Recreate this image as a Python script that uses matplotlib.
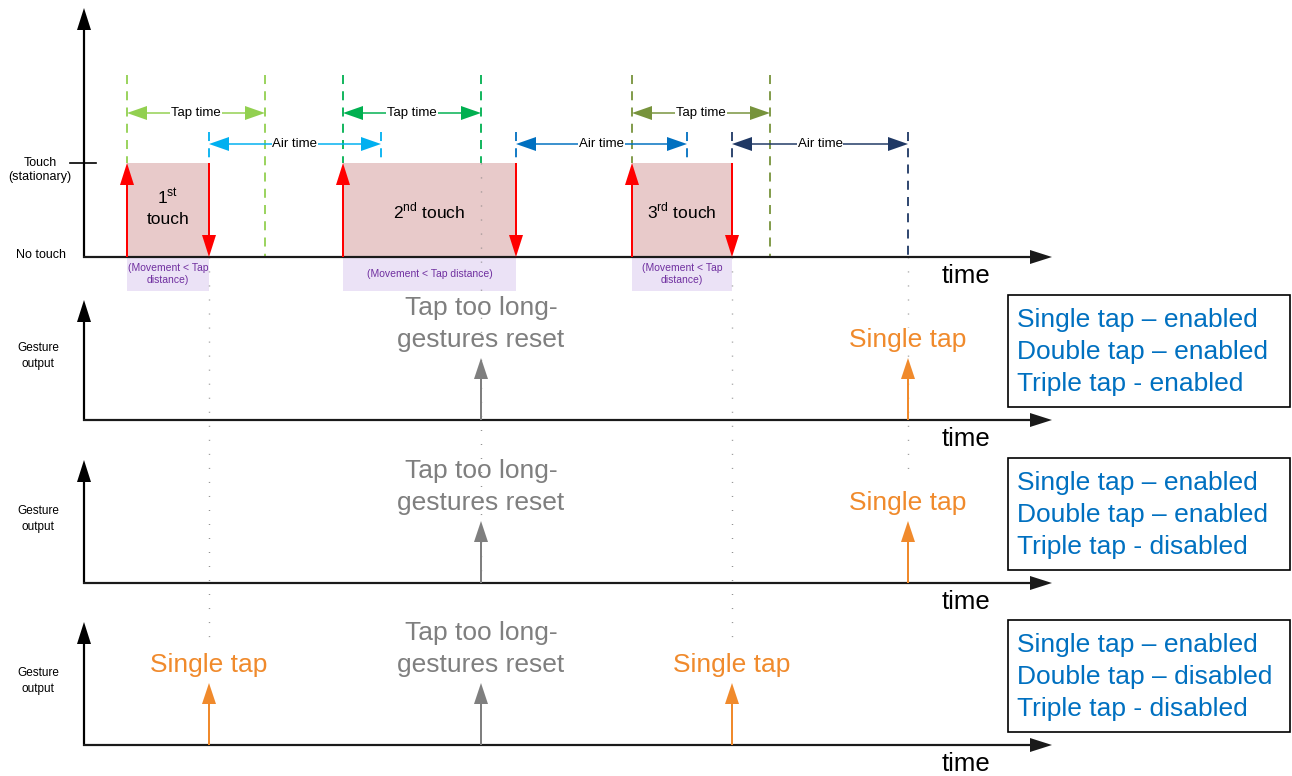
import matplotlib
matplotlib.use("Agg")
import matplotlib.pyplot as plt
from matplotlib.patches import Rectangle

plt.rcParams['font.family'] = ['Liberation Sans', 'DejaVu Sans']
plt.rcParams['mathtext.fontset'] = 'custom'
plt.rcParams['mathtext.rm'] = 'Liberation Sans'

# time axis is in pixel-like units across the figure
touch_start = [127, 343, 632]
touch_end = [209, 516, 732]
touch_labels = ['1$^{\\rm st}$\ntouch', '2$^{\\rm nd}$ touch', '3$^{\\rm rd}$ touch']
movement_labels = ['(Movement < Tap\ndistance)', '(Movement < Tap distance)', '(Movement < Tap\ndistance)']
tap_end = [265, 481, 770]          # tap-time window starts at touch_start
tap_colors = ['#92D050', '#00B050', '#77933C']
air_end = [381, 687, 908]          # air-time window starts at touch_end
air_colors = ['#00B0F0', '#0070C0', '#1F3864']

# gesture output panels
panel_outputs = [
    [(481, 'reset'), (908, 'single')],
    [(481, 'reset'), (908, 'single')],
    [(209, 'single'), (481, 'reset'), (732, 'single')],
]
panel_settings = [
    ['Single tap \u2013 enabled', 'Double tap \u2013 enabled', 'Triple tap - enabled'],
    ['Single tap \u2013 enabled', 'Double tap \u2013 enabled', 'Triple tap - disabled'],
    ['Single tap \u2013 enabled', 'Double tap \u2013 disabled', 'Triple tap - disabled'],
]

# dotted guide lines (x, top, bottom)
guide_x = [209, 481, 732, 908]
guide_top = [257, 163, 257, 257]
guide_bottom = [642, 583, 642, 470]

W, H = 1292, 776
fig = plt.figure(figsize=(W / 100, H / 100), dpi=100)
ax = fig.add_axes([0, 0, 1, 1])
ax.set_xlim(0, W)
ax.set_ylim(H, 0)
ax.axis('off')

x0 = 84
x_end = 1052
base1 = 257
touch_y = 163
tap_y = 113
air_y = 144
dash_top = 75
tick_top = 132
bases = [257, 420, 583, 745]
tops = [8, 300, 460, 622]

RED = '#FF0000'
ORANGE = '#F08A2C'
GRAY = '#7F7F7F'
BLUE = '#0070C0'
PURPLE = '#7030A0'
DASH = (0, (5, 4))


def arrow(x, y, dx, dy, color, lw=2, hw=14, hl=22, z=4):
    ax.arrow(x, y, dx, dy, width=lw, head_width=hw, head_length=hl,
             length_includes_head=True, color=color, lw=0, zorder=z)


def span_arrow(xa, xb, y, color, label):
    xm = (xa + xb) / 2
    arrow(xm, y, xa - xm, 0, color, lw=1.5, hw=14, hl=20)
    arrow(xm, y, xb - xm, 0, color, lw=1.5, hw=14, hl=20)
    ax.text(xm, y, label, ha='center', va='center', fontsize=9.5, zorder=6,
            bbox=dict(facecolor='white', edgecolor='none', pad=0.5))


def inside_touch(x):
    return any(s < x < e for s, e in zip(touch_start, touch_end))


# axes of each panel
for b, t in zip(bases, tops):
    arrow(x0, b + 1, 0, t - b - 1, 'black', lw=2.2)
    arrow(x0 - 1, b, x_end - x0 + 1, 0, '#1A1A1A', lw=2.2)
    ax.text(966, b + 19, 'time', ha='center', va='center', fontsize=18.5)

# guide lines
for gx, gt, gb in zip(guide_x, guide_top, guide_bottom):
    ax.plot([gx, gx], [gt, gb], color=GRAY, lw=1, ls=(0, (0.6, 9.5)), zorder=1)

# top panel: touches
for s, e, lab, mv in zip(touch_start, touch_end, touch_labels, movement_labels):
    ax.add_patch(Rectangle((s, touch_y), e - s, base1 - touch_y, facecolor='#E8CACA',
                           edgecolor='none', zorder=0.5))
    ax.add_patch(Rectangle((s, base1 + 1), e - s, 33, facecolor='#EBE2F6',
                           edgecolor='none', zorder=0.5))
    ax.text((s + e) / 2, base1 + 17, mv, ha='center', va='center', fontsize=7.5,
            color=PURPLE, linespacing=1.3, zorder=6)
    ty = 207 if '\n' in lab else 211
    ax.text((s + e) / 2, ty, lab, ha='center', va='center', fontsize=12.5,
            linespacing=1.45, zorder=6)
    arrow(s, base1, 0, touch_y - base1, RED, lw=2, hw=14, hl=22)
    arrow(e, touch_y, 0, base1 - touch_y, RED, lw=2, hw=14, hl=22)

# tap time windows
for s, e, c in zip(touch_start, tap_end, tap_colors):
    ax.plot([s, s], [dash_top, touch_y], color=c, lw=1.3, ls=DASH, zorder=2)
    bottom = touch_y if inside_touch(e) else base1
    ax.plot([e, e], [dash_top, bottom], color=c, lw=1.3, ls=DASH, zorder=2)
    span_arrow(s, e, tap_y, c, 'Tap time')

# air time windows
for s, e, c in zip(touch_end, air_end, air_colors):
    ax.plot([s, s], [tick_top, touch_y], color=c, lw=1.3, ls=DASH, zorder=2)
    bottom = touch_y if inside_touch(e) else base1
    ax.plot([e, e], [tick_top, bottom], color=c, lw=1.3, ls=DASH, zorder=2)
    span_arrow(s, e, air_y, c, 'Air time')

# touch level labels
ax.plot([70, 96], [touch_y, touch_y], color='black', lw=1.2)
ax.text(40, 170, 'Touch\n(stationary)', ha='center', va='center', fontsize=9,
        linespacing=1.3)
ax.text(41, base1 - 2, 'No touch', ha='center', va='center', fontsize=9)

# gesture output panels
for b, outputs, settings in zip(bases[1:], panel_outputs, panel_settings):
    ax.text(38, b - 64, 'Gesture\noutput', ha='center', va='center', fontsize=8.5,
            linespacing=1.45)
    for gx, kind in outputs:
        if kind == 'single':
            arrow(gx, b, 0, -62, ORANGE, lw=2, hw=14, hl=21)
            ax.text(gx, b - 80, 'Single tap', ha='center', va='center',
                    fontsize=19, color=ORANGE, zorder=6,
                    bbox=dict(facecolor='white', edgecolor='none', pad=0))
        else:
            arrow(gx, b, 0, -62, GRAY, lw=2, hw=14, hl=21)
            ax.text(gx, b - 96, 'Tap too long-\ngestures reset', ha='center',
                    va='center', fontsize=19, color=GRAY, linespacing=1.42, zorder=6)
    ax.add_patch(Rectangle((1008, b - 125), 282, 112, facecolor='white',
                           edgecolor='black', lw=1.2, zorder=5))
    for i, line in enumerate(settings):
        ax.text(1017, b - 100 + 32 * i, line, ha='left', va='center', fontsize=19,
                color=BLUE, zorder=6)

fig.savefig('out.png', dpi=100)
